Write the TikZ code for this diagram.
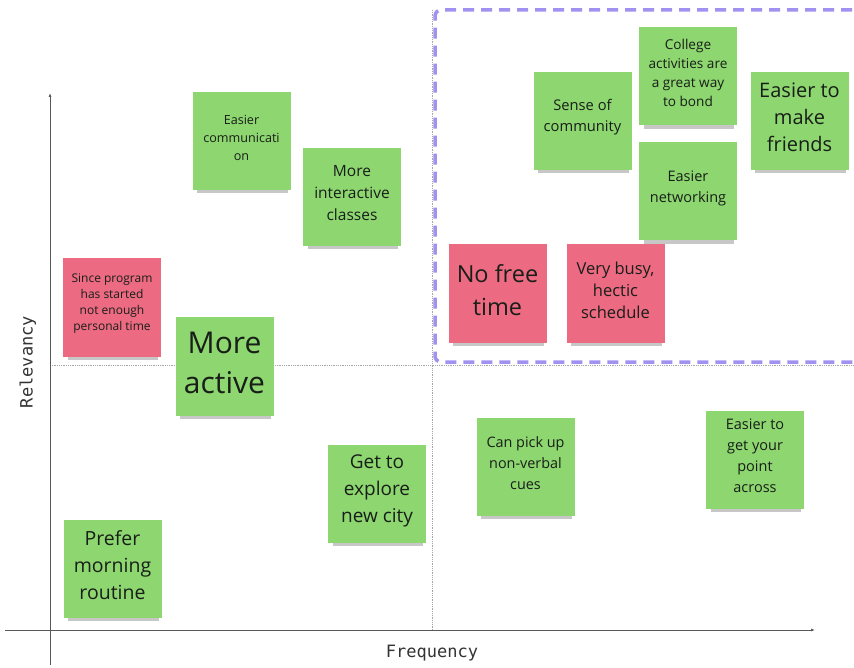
\documentclass[tikz,border=0pt]{standalone}
\usepackage{fontspec}
\setmainfont{Open Sans}
\setmonofont{DejaVu Sans Mono}
\usetikzlibrary{shadows,arrows.meta}
\definecolor{notegreen}{RGB}{141,214,112}
\definecolor{notered}{RGB}{236,106,130}
\definecolor{boxlilac}{RGB}{160,146,240}
\definecolor{noteink}{RGB}{24,30,24}
\newcommand{\fsz}[2]{\fontsize{#1}{#2}\selectfont}
\begin{document}
\begin{tikzpicture}[x=1pt,y=-1pt,
            note/.style={minimum width=98pt,minimum height=98pt,inner sep=0pt,
                drop shadow={shadow xshift=1pt,shadow yshift=-8pt,shadow scale=0.92,fill=black!55,opacity=0.4}},
            good/.style={note,fill=notegreen},
            bad/.style={note,fill=notered},
            txt/.style={align=center,text=noteink,inner sep=0pt,yshift=3.5pt},
            axis/.style={draw=black!65,line width=1pt},
            midline/.style={draw=black!35,densely dotted,line width=0.8pt}]
            \fill[white] (0,0) rectangle (854,668);
            \useasboundingbox (0,0) rectangle (854,668);

            % axes and quadrant lines
            \coordinate (ytop) at (50,93);
            \coordinate (ybot) at (50,665);
            \coordinate (xleft) at (5,630);
            \coordinate (xright) at (815,630);
            \coordinate (midleft) at (50,365);
            \coordinate (midright) at (854,365);
            \coordinate (midtop) at (432,10);
            \coordinate (midbot) at (432,630);
            \draw[midline] (midleft) -- (midright);
            \draw[midline] (midtop) -- (midbot);
            \draw[axis,-{Latex[length=4pt,width=3pt]}] (ybot) -- (ytop);
            \draw[axis,-{Latex[length=4pt,width=3pt]}] (xleft) -- (xright);
            \node[font=\ttfamily\fsz{17}{17},text=black!80] (xlabel) at (432,653) {Frequency};
            \node[font=\ttfamily\fsz{17}{17},text=black!80,rotate=90] (ylabel) at (28,362) {Relevancy};

            % highlighted quadrant
            \draw[boxlilac,line width=3.5pt,dash pattern=on 11pt off 7pt,rounded corners=6pt]
                (870,10) -- (435,10) -- (435,362) -- (870,362);

            % upper left
            \node[good,label={[txt,font=\fsz{12.6}{18}]center:{Easier\\communicati\\on}}] (comm) at (241.5,141) {};
            \node[good,label={[txt,font=\fsz{15.5}{22}]center:{More\\interactive\\classes}}] (interactive) at (352,197) {};
            \node[bad,label={[txt,font=\fsz{12}{16}]center:{Since program\\has started\\not enough\\personal time}}] (notime1) at (112,307.5) {};
            \node[good,label={[txt,font=\fsz{30}{40}]center:{More\\active}}] (active) at (224.5,366.5) {};

            % lower left
            \node[good,label={[txt,font=\fsz{19}{27}]center:{Get to\\explore\\new city}}] (city) at (377,494) {};
            \node[good,label={[txt,font=\fsz{19.5}{27}]center:{Prefer\\morning\\routine}}] (routine) at (112.5,568.5) {};

            % lower right
            \node[good,label={[txt,font=\fsz{14.4}{21}]center:{Can pick up\\non-verbal\\cues}}] (cues) at (525.5,467) {};
            \node[good,label={[txt,font=\fsz{14.5}{21}]center:{Easier to\\get your\\point\\across}}] (point) at (755,459.5) {};

            % upper right
            \node[good,label={[txt,font=\fsz{14.7}{21}]center:{Sense of\\community}}] (community) at (582.5,121) {};
            \node[good,label={[txt,font=\fsz{13.6}{19}]center:{College\\activities are\\a great way\\to bond}}] (bond) at (688,76.5) {};
            \node[good,label={[txt,font=\fsz{20}{27}]center:{Easier to\\make\\friends}}] (friends) at (799.5,121) {};
            \node[good,label={[txt,font=\fsz{14.5}{21}]center:{Easier\\networking}}] (networking) at (688,191.5) {};
            \node[bad,label={[txt,font=\fsz{23.5}{33}]center:{No free\\time}}] (notime2) at (497.5,293.5) {};
            \node[bad,label={[txt,font=\fsz{16.5}{22}]center:{Very busy,\\hectic\\schedule}}] (busy) at (615.5,293.5) {};
        \end{tikzpicture}
\end{document}
